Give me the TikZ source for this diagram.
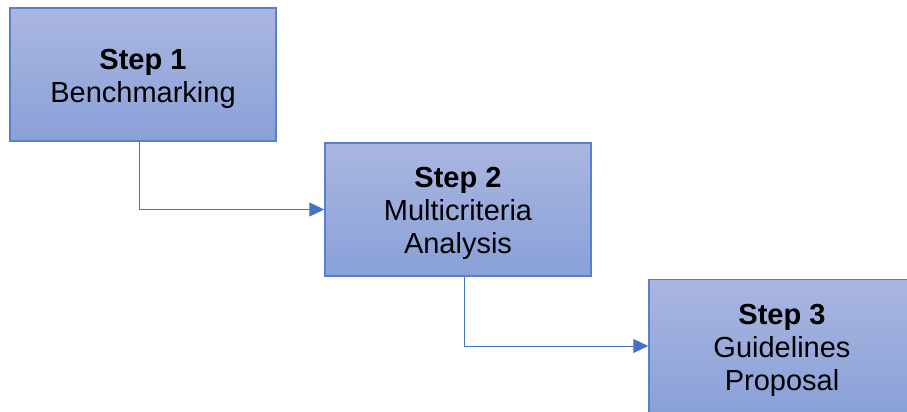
\documentclass[tikz,border=0pt]{standalone}
\usepackage{fontspec}
\setmainfont{Liberation Sans}
\usetikzlibrary{arrows.meta,calc}
\definecolor{boxtop}{RGB}{170,182,224}
\definecolor{boxbot}{RGB}{137,161,216}
\definecolor{boxline}{RGB}{88,128,208}
\definecolor{arrowc}{RGB}{68,114,196}
\begin{document}
\begin{tikzpicture}[x=1pt,y=-1pt,
  stepbox/.style={draw=boxline, line width=1.5pt, top color=boxtop, bottom color=boxbot,
    minimum width=266pt, minimum height=133pt, inner sep=0pt},
  steptext/.style={inner sep=0pt, align=center, font=\fontsize{29}{33}\selectfont},
  conn/.style={draw=arrowc, line width=1pt, -{Triangle[length=15pt,width=14pt]}}]
\useasboundingbox (0,0) rectangle (907,412);
\node[stepbox] (b1) at (143,74.5) {};
\node[steptext] (t1) at ($(b1.center)+(0,4)$) {\textbf{Step 1}\\Benchmarking};
\node[stepbox] (b2) at (458,209.5) {};
\node[steptext] (t2) at ($(b2.center)+(0,4)$) {\textbf{Step 2}\\Multicriteria\\Analysis};
\node[stepbox] (b3) at (782,346) {};
\node[steptext] (t3) at ($(b3.center)+(0,4)$) {\textbf{Step 3}\\Guidelines\\Proposal};
\coordinate (c1) at ($(b1.south west)+(130,0)$);
\coordinate (c2) at ($(b2.south west)+(140,0)$);
\draw[conn] (c1) |- (b2.west);
\draw[conn] (c2) |- (b3.west);
\end{tikzpicture}
\end{document}
